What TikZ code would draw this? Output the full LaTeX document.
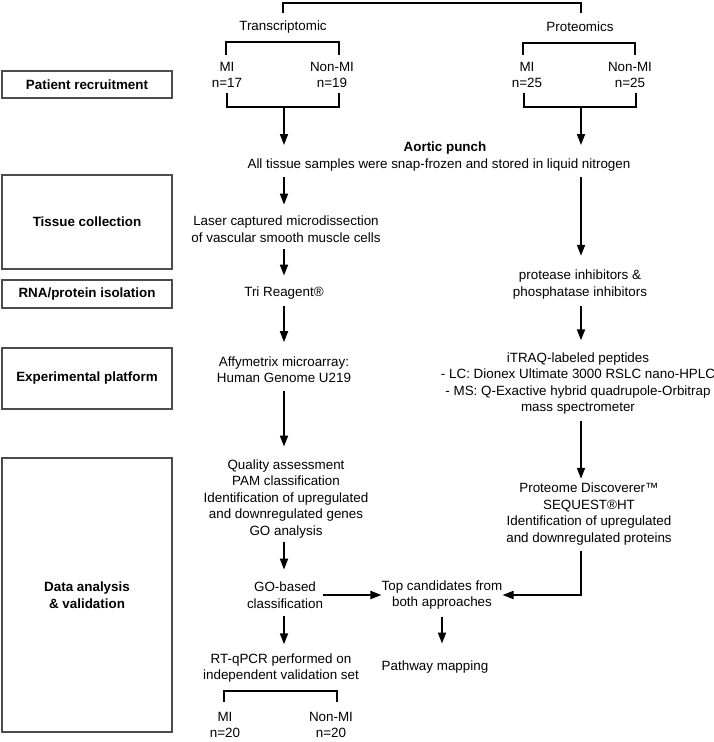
\documentclass[tikz,border=0pt]{standalone}
\usepackage{fontspec}
\setmainfont{Liberation Sans}
\usetikzlibrary{arrows.meta,calc}
\begin{document}
\begin{tikzpicture}[x=1pt,y=-1pt,
  every node/.style={font=\fontsize{13.4}{16.5}\selectfont},
  txt/.style={inner sep=0pt, align=center},
  bold/.style={font=\fontsize{13.4}{16.5}\selectfont\bfseries},
  lbl/.style={draw=black!70, line width=1.2pt, minimum width=170pt, inner sep=0pt, align=center, fill=white, font=\fontsize{13.4}{17}\selectfont\bfseries},
  conn/.style={line width=1.8pt},
  arr/.style={line width=1.8pt, -{Triangle[length=11pt,width=8pt]}}]
\useasboundingbox (0,0) rectangle (714,742);
\fill[white] (0,0) rectangle (714,742);

% left stage boxes
\node[lbl, minimum height=27pt] (patient) at (87,84.5) {Patient recruitment};
\node[lbl, minimum height=94pt] (tissue) at (87,222) {Tissue collection};
\node[lbl, minimum height=28pt] (rna) at (87,294) {RNA/protein isolation};
\node[lbl, minimum height=61pt] (exp) at (87,378.5) {Experimental platform};
\node[lbl, minimum height=274pt] (data) at (87,595) {Data analysis\\\& validation};

% texts
\node[txt] (trans) at (283,27) {Transcriptomic};
\node[txt] (prot) at (580,27) {Proteomics};
\node[txt] (mi1) at (227,75) {MI\\n=17};
\node[txt] (nonmi1) at (332,75) {Non-MI\\n=19};
\node[txt] (mi2) at (527,75) {MI\\n=25};
\node[txt] (nonmi2) at (630,75) {Non-MI\\n=25};
\node[txt, bold] (aortic) at (445,148) {Aortic punch};
\node[txt] (alltissue) at (439,165) {All tissue samples were snap-frozen and stored in liquid nitrogen};
\node[txt] (laser) at (286,229) {Laser captured microdissection\\of vascular smooth muscle cells};
\node[txt] (tri) at (284,293) {Tri Reagent®};
\node[txt] (protease) at (580,284.5) {protease inhibitors \&\\phosphatase inhibitors};
\node[txt] (affy) at (284,369.5) {Affymetrix microarray:\\Human Genome U219};
\node[txt] (itraq) at (578,383.5) {iTRAQ-labeled peptides\\- LC: Dionex Ultimate 3000 RSLC nano-HPLC\\- MS: Q-Exactive hybrid quadrupole-Orbitrap\\mass spectrometer};
\node[txt] (quality) at (286,499) {Quality assessment\\PAM classification\\Identification of upregulated\\and downregulated genes\\GO analysis};
\node[txt] (proteome) at (589,514) {Proteome Discoverer™\\SEQUEST®HT\\Identification of upregulated\\and downregulated proteins};
\node[txt] (gobased) at (285,595) {GO-based\\classification};
\node[txt] (topcand) at (442,595) {Top candidates from\\both approaches};
\node[txt] (rtqpcr) at (281,668) {RT-qPCR performed on\\independent validation set};
\node[txt] (pathway) at (435,667) {Pathway mapping};
\node[txt] (mi3) at (225,725) {MI\\n=20};
\node[txt] (nonmi3) at (331,725) {Non-MI\\n=20};

% column x references
\coordinate (lx) at (284,0);
\coordinate (rx) at (581,0);

% brackets
\coordinate (t1) at (283,13);
\coordinate (t2) at (581,13);
\draw[conn] (t1) -- ++(0,-10) -| (t2);
\coordinate (b1a) at (226,55);
\coordinate (b1b) at (339,55);
\draw[conn] (b1a) -- ++(0,-13) -| (b1b);
\coordinate (b2a) at (523,55);
\coordinate (b2b) at (635,55);
\draw[conn] (b2a) -- ++(0,-12) -| (b2b);
\coordinate (c1a) at (227,93);
\coordinate (c1b) at (339,93);
\coordinate (c1m) at (284,107);
\draw[conn] (c1a) -- ++(0,14) -| (c1b);
\coordinate (c2a) at (524,93);
\coordinate (c2b) at (636,93);
\coordinate (c2m) at (581,107);
\draw[conn] (c2a) -- ++(0,14) -| (c2b);
\coordinate (d1a) at (224,702);
\coordinate (d1b) at (337,702);
\draw[conn] (d1a) -- ++(0,-11) -| (d1b);

% arrows
\draw[arr, shorten >=3pt] (c1m) -- (c1m |- aortic.center);
\draw[arr, shorten >=3pt] (c2m) -- (c2m |- aortic.center);
\draw[arr, shorten <=6pt, shorten >=11pt] (alltissue.south -| lx) -- (laser.north -| lx);
\draw[arr, shorten <=6pt, shorten >=14pt] (alltissue.south -| rx) -- (protease.north -| rx);
\draw[arr, shorten <=6.5pt, shorten >=11pt] (laser.south -| lx) -- (tri.north -| lx);
\draw[arr, shorten <=7pt, shorten >=14pt] (tri.south -| lx) -- (affy.north -| lx);
\draw[arr, shorten <=7pt, shorten >=12pt] (protease.south -| rx) -- (itraq.north -| rx);
\draw[arr, shorten <=8pt, shorten >=13pt] (affy.south -| lx) -- (quality.north -| lx);
\draw[arr, shorten <=6pt, shorten >=4pt] (itraq.south -| rx) -- (proteome.north -| rx);
\draw[arr, shorten <=4pt, shorten >=12pt] (quality.south -| lx) -- (gobased.north -| lx);
\draw[arr, shorten <=6pt] (proteome.south -| rx) |- (topcand.east);
\draw[arr] (gobased.east) -- (topcand.west);
\draw[arr, shorten <=8pt, shorten >=9pt] (gobased.south -| lx) -- (rtqpcr.north -| lx);
\draw[arr, shorten <=7pt, shorten >=17pt] (topcand.south) -- (topcand.south |- pathway.north);
\end{tikzpicture}
\end{document}
